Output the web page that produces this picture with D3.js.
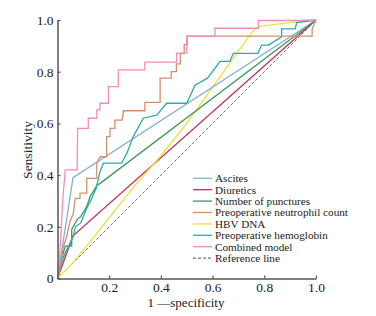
<html>
<head>
<script src="https://d3js.org/d3.v7.min.js"></script>
<style>
  body { margin: 0; background: #fff; }
  text { font-family: "Liberation Serif", "DejaVu Serif", serif; fill: #222; }
</style>
</head>
<body>
<div id="chart"></div>
<script>
// series names, in legend order
const names = ["Ascites", "Diuretics", "Number of punctures", "Preoperative neutrophil count",
               "HBV DNA", "Preoperative hemoglobin", "Combined model", "Reference line"];
const colors = ["#86b0d2", "#c42c5c", "#3e9a5e", "#d4906c", "#ece23a", "#26adb0", "#f08cc2", "#66788a"];

// ROC points [1-specificity, sensitivity]
const ascites = [[0, 0], [0.06, 0.39], [1, 1]];
const diuretics = [[0, 0], [0.06, 0.165], [1, 1]];
const punctures = [[0, 0], [0.01, 0.05], [0.02, 0.09], [0.03, 0.125], [0.055, 0.125], [0.055, 0.19],
                   [0.074, 0.225], [0.09, 0.24], [0.113, 0.278], [0.126, 0.316], [0.152, 0.36], [0.165, 0.368], [1, 1]];
const neutrophil = [[0, 0], [0.01, 0.04], [0.022, 0.12], [0.035, 0.16], [0.048, 0.22], [0.061, 0.25],
                    [0.068, 0.31], [0.087, 0.31], [0.087, 0.33], [0.113, 0.33], [0.113, 0.387], [0.152, 0.387],
                    [0.152, 0.446], [0.165, 0.471], [0.19, 0.471], [0.19, 0.549], [0.203, 0.549], [0.203, 0.581],
                    [0.222, 0.581], [0.222, 0.613], [0.25, 0.613], [0.255, 0.649], [0.338, 0.649], [0.338, 0.681],
                    [0.397, 0.681], [0.397, 0.775], [0.44, 0.775], [0.44, 0.8], [0.46, 0.8], [0.46, 0.83],
                    [0.475, 0.83], [0.475, 0.87], [0.49, 0.87], [0.49, 0.905], [0.502, 0.905], [0.502, 0.938],
                    [0.985, 0.938], [0.985, 0.965], [1, 1]];
const hbv = [[0, 0], [0.05, 0.05], [0.1, 0.11], [0.2, 0.235], [0.3, 0.36], [0.4, 0.475], [0.5, 0.6],
             [0.6, 0.74], [0.7, 0.88], [0.75, 0.95], [0.78, 0.975], [0.9, 0.99], [1, 1]];
const hemoglobin = [[0, 0], [0.015, 0.06], [0.03, 0.1], [0.045, 0.13], [0.06, 0.16], [0.07, 0.2],
                    [0.09, 0.215], [0.11, 0.265], [0.13, 0.305], [0.15, 0.35], [0.165, 0.415], [0.178, 0.446],
                    [0.248, 0.446], [0.268, 0.484], [0.293, 0.549], [0.332, 0.62], [0.384, 0.632], [0.422, 0.678],
                    [0.5, 0.678], [0.532, 0.748], [0.58, 0.775], [0.629, 0.84], [0.667, 0.84], [0.68, 0.871],
                    [0.775, 0.871], [0.79, 0.903], [0.816, 0.903], [0.867, 0.935], [0.867, 0.966], [0.92, 0.966],
                    [0.925, 0.99], [1, 1]];
const combined = [[0, 0], [0.005, 0.05], [0.01, 0.12], [0.015, 0.2], [0.02, 0.3], [0.025, 0.36], [0.03, 0.42],
                  [0.076, 0.42], [0.078, 0.581], [0.119, 0.581], [0.119, 0.62], [0.152, 0.62], [0.152, 0.652],
                  [0.164, 0.652], [0.164, 0.678], [0.197, 0.678], [0.197, 0.742], [0.235, 0.742], [0.235, 0.807],
                  [0.338, 0.807], [0.338, 0.837], [0.461, 0.837], [0.461, 0.872], [0.5, 0.872], [0.5, 0.938],
                  [0.609, 0.938], [0.609, 0.968], [0.777, 0.968], [0.777, 0.998], [0.925, 0.998], [1, 1]];
const reference = [[0, 0], [1, 1]];

const series = [ascites, diuretics, punctures, neutrophil, hbv, hemoglobin, combined, reference];
const drawOrder = [7, 1, 4, 0, 2, 5, 3, 6];

const xTicks = [0.2, 0.4, 0.6, 0.8, 1.0];
const yTicks = [0, 0.2, 0.4, 0.6, 0.8, 1.0];

const W = 376, H = 316;
const margin = {top: 20, right: 60, bottom: 38, left: 57.5};
const width = 316 - margin.left;
const height = 278.5 - margin.top;

const svg = d3.select("#chart").append("svg")
    .attr("width", W)
    .attr("height", H);
const g = svg.append("g")
    .attr("transform", "translate(" + margin.left + "," + margin.top + ")");

const x = d3.scaleLinear().domain([0, 1]).range([0, width]);
const y = d3.scaleLinear().domain([0, 1]).range([height, 0]);

const line = d3.line().x(d => x(d[0])).y(d => y(d[1]));

drawOrder.forEach(i => {
    g.append("path")
        .datum(series[i])
        .attr("d", line)
        .attr("fill", "none")
        .attr("stroke", colors[i])
        .attr("stroke-width", i == 7 ? 1 : 1.3)
        .attr("stroke-dasharray", i == 7 ? "3,2" : null);
});

// axes, ticks pointing inward
const xAxis = g.append("g")
    .attr("transform", "translate(0," + height + ")")
    .call(d3.axisBottom(x).tickValues(xTicks).tickFormat(d3.format(".1f")).tickSizeInner(-3).tickSizeOuter(0));
const yAxis = g.append("g")
    .call(d3.axisLeft(y).tickValues(yTicks).tickFormat(d => d == 0 ? "0" : d3.format(".1f")(d)).tickSizeInner(-3).tickSizeOuter(0));

[xAxis, yAxis].forEach(a => {
    a.select(".domain").attr("stroke", "#555").attr("stroke-width", 1.5);
    a.selectAll(".tick line").attr("stroke", "#555").attr("stroke-width", 1.2);
    a.selectAll("text")
        .style("font-family", "Liberation Serif, serif")
        .style("font-size", "13.5px")
        .attr("fill", "#222");
});
xAxis.selectAll("text").attr("y", 3.5);
yAxis.selectAll("text").attr("x", -4);

svg.append("text")
    .attr("x", 186)
    .attr("y", 307)
    .attr("text-anchor", "middle")
    .style("font-size", "13px")
    .text("1 —specificity");

svg.append("text")
    .attr("transform", "translate(32,150) rotate(-90)")
    .attr("text-anchor", "middle")
    .style("font-size", "13.5px")
    .text("Sensitivity");

// legend
const legend = svg.append("g").attr("transform", "translate(193,178.3)");
names.forEach((n, i) => {
    const row = legend.append("g").attr("transform", "translate(0," + (i * 11.4) + ")");
    row.append("line")
        .attr("x1", 0).attr("x2", 19)
        .attr("stroke", colors[i])
        .attr("stroke-width", 1.3)
        .attr("stroke-dasharray", i == 7 ? "3,2" : null);
    row.append("text")
        .attr("x", 22)
        .attr("dy", "0.35em")
        .style("font-size", "11.2px")
        .text(n);
});
</script>
</body>
</html>
